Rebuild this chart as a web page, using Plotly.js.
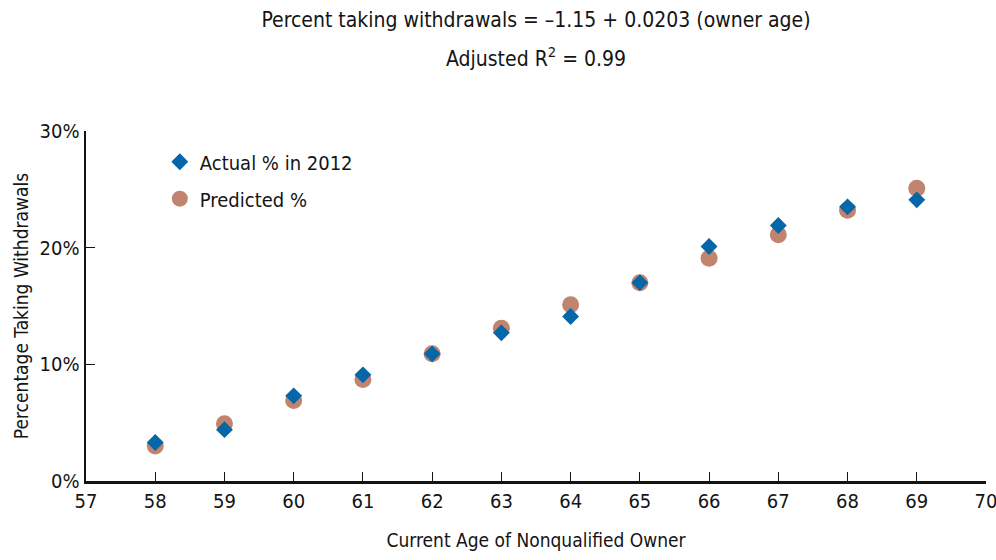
<!DOCTYPE html>
<html>
<head>
<meta charset="utf-8">
<script src="https://cdn.plot.ly/plotly-3.0.1.min.js"></script>
<style>
html,body{margin:0;padding:0;background:#fff;}
#chart{width:996px;height:560px;}
#chart text{font-stretch:condensed !important;}
</style>
</head>
<body>
<div id="chart"></div>
<script>
const ages = [58, 59, 60, 61, 62, 63, 64, 65, 66, 67, 68, 69];
const actualPct = [3.3, 4.4, 7.3, 9.1, 10.9, 12.7, 14.1, 17.0, 20.1, 21.9, 23.5, 24.1];
const predictedPct = [3.0, 4.9, 6.9, 8.7, 10.9, 13.1, 15.1, 17.0, 19.1, 21.1, 23.2, 25.1];
const xTicks = [57, 58, 59, 60, 61, 62, 63, 64, 65, 66, 67, 68, 69, 70];
const yTicks = [0, 10, 20, 30];
const yTickLabels = ["0%", "10%", "20%", "30%"];
const titleLine1 = 'Percent taking withdrawals = \u20131.15 + 0.0203 (owner age)';
const titleLine2 = 'Adjusted R<sup>2</sup> = 0.99';

const FONT = "'DejaVu Sans Condensed', 'DejaVu Sans', sans-serif";
const INK = '#141414';

const traces = [
  {
    x: ages, y: predictedPct, type: 'scatter', mode: 'markers', name: 'Predicted %',
    legendgroup: 'p', legendrank: 2,
    marker: {symbol: 'circle', size: 17, color: '#c0846f'}
  },
  {
    x: ages, y: actualPct, type: 'scatter', mode: 'markers', name: 'Actual % in 2012',
    legendgroup: 'a', legendrank: 1,
    marker: {symbol: 'diamond', size: 13, color: '#0567a8'}
  }
];

const layout = {
  width: 996, height: 560,
  margin: {l: 86, r: 10, t: 131, b: 79},
  paper_bgcolor: '#fff', plot_bgcolor: '#fff',
  font: {family: FONT, size: 20, color: INK},
  title: {
    text: titleLine1,
    font: {family: FONT, size: 21, color: INK},
    x: 0.5, xref: 'paper', xanchor: 'center',
    y: 1 - 20 / 560, yref: 'container', yanchor: 'middle'
  },
  annotations: [{
    text: titleLine2, showarrow: false,
    font: {family: FONT, size: 21, color: INK},
    xref: 'paper', x: 0.5, xanchor: 'center',
    yref: 'paper', y: (481 - 57) / 350, yanchor: 'middle'
  }],
  showlegend: true,
  legend: {
    x: 0.082, y: 0.968, xanchor: 'left', yanchor: 'top',
    traceorder: 'grouped', tracegroupgap: 8,
    font: {family: FONT, size: 20, color: INK},
    bgcolor: 'rgba(0,0,0,0)'
  },
  xaxis: {
    range: [57, 70], tickvals: xTicks, ticktext: xTicks.map(String),
    showgrid: false, zeroline: false,
    showline: true, linecolor: INK, linewidth: 2.5,
    ticks: 'inside', ticklen: 9, tickwidth: 1, tickcolor: INK,
    ticklabeloverflow: 'allow',
    tickfont: {family: FONT, size: 20, color: INK},
    title: {text: 'Current Age of Nonqualified Owner', font: {family: FONT, size: 19, color: INK}, standoff: 22}
  },
  yaxis: {
    range: [0, 30], tickvals: yTicks, ticktext: yTickLabels,
    showgrid: false, zeroline: false,
    showline: true, linecolor: INK, linewidth: 2.5,
    ticks: 'inside', ticklen: 9, tickwidth: 1, tickcolor: INK,
    tickfont: {family: FONT, size: 20, color: INK},
    title: {text: 'Percentage Taking Withdrawals', font: {family: FONT, size: 19, color: INK}, standoff: 6}
  }
};

Plotly.newPlot('chart', traces, layout, {displayModeBar: false, staticPlot: true});
</script>
</body>
</html>
